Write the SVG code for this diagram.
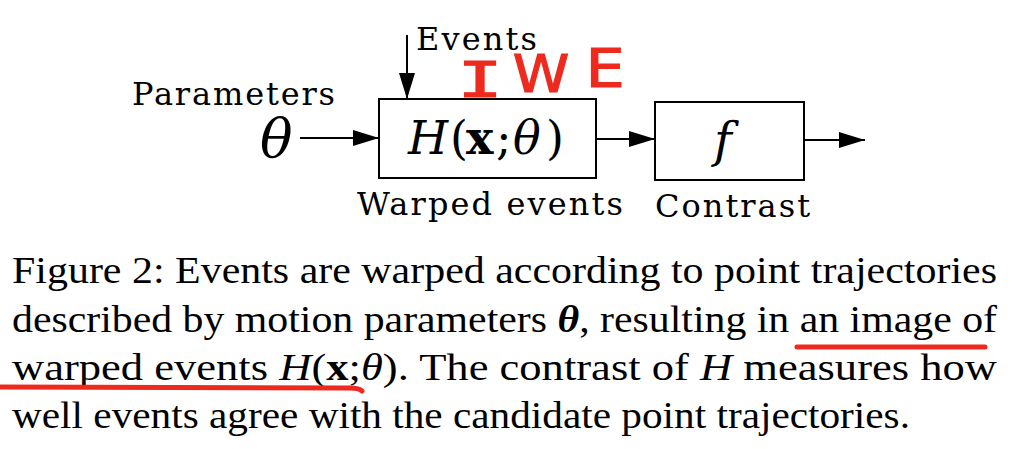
<svg xmlns="http://www.w3.org/2000/svg" width="1023" height="449" viewBox="0 0 1023 449">
  <style>
    .lbl { font-family: "DejaVu Serif", serif; font-size: 32px; fill: #000; }
    .math { font-family: "DejaVu Serif", serif; fill: #000; }
    .box { fill: #fff; stroke: #000; stroke-width: 2; }
    .conn { stroke: #000; stroke-width: 2; fill: none; marker-end: url(#arr); }
    .cap { font-family: "Liberation Serif", "DejaVu Serif", serif; font-size: 37px; fill: #000; }
    .red { fill: #ee2a1e; stroke: #ee2a1e; stroke-width: 1.2; }
    .uline { stroke: #ee2a1e; stroke-width: 5; fill: none; stroke-linecap: round; stroke-linejoin: round; }
  </style>
  <defs>
    <marker id="arr" markerUnits="userSpaceOnUse" markerWidth="26" markerHeight="16" refX="26" refY="8" orient="auto">
      <path d="M0,0 L26,8 L0,16 z" fill="#000"/>
    </marker>
  </defs>
  <rect width="1023" height="449" fill="#fff"/>

  <g id="connectors">
    <path class="conn" d="M300 138 L379 138"/>
    <path class="conn" d="M407 35 L407 99"/>
    <path class="conn" d="M596 139 L655 139"/>
    <path class="conn" d="M804 140 L865 140"/>
  </g>

  <g id="input-theta">
    <text class="lbl" x="132" y="105" textLength="203">Parameters</text>
    <text class="math" x="260" y="157" font-size="54" font-style="italic">θ</text>
  </g>

  <g id="events-input">
    <text class="lbl" x="416" y="50" textLength="121">Events</text>
  </g>

  <g id="warp-box">
    <rect class="box" x="379" y="99" width="217" height="79"/>
    <text class="math" y="154" font-size="46"><tspan x="408" font-style="italic">H</tspan><tspan x="450">(</tspan><tspan x="466" font-weight="bold">x</tspan><tspan x="496">;</tspan><tspan x="513" font-style="italic">θ</tspan><tspan x="546">)</tspan></text>
    <text class="lbl" x="357" y="215" textLength="266">Warped events</text>
  </g>

  <g id="contrast-box">
    <rect class="box" x="655" y="102" width="149" height="78"/>
    <text class="math" x="714" y="157" font-size="48" font-style="italic">f</text>
    <text class="lbl" x="655" y="217" textLength="155">Contrast</text>
  </g>

  <g id="iwe-annotation">
    <text class="red" x="0" y="0" font-family="DejaVu Sans Mono, monospace" font-size="50" text-anchor="middle" transform="translate(480 97) scale(1.5 1)">I</text>
    <text class="red" x="0" y="0" font-family="DejaVu Sans, sans-serif" font-size="52" text-anchor="middle" transform="translate(541 92) scale(1.1 1)">W</text>
    <text class="red" x="0" y="0" font-family="DejaVu Sans, sans-serif" font-size="54" text-anchor="middle" transform="translate(605 87) scale(1.15 1)">E</text>
  </g>

  <g id="caption">
    <text class="cap" x="12" y="283" textLength="985" lengthAdjust="spacingAndGlyphs">Figure 2: Events are warped according to point trajectories</text>
    <text class="cap" x="12" y="332" textLength="985" lengthAdjust="spacingAndGlyphs">described by motion parameters <tspan font-style="italic" font-weight="bold">θ</tspan>, resulting in an image of</text>
    <text class="cap" x="12" y="380" textLength="985" lengthAdjust="spacingAndGlyphs">warped events <tspan font-style="italic">H</tspan>(<tspan font-weight="bold">x</tspan>;<tspan font-style="italic">θ</tspan>).  The contrast of <tspan font-style="italic">H</tspan> measures how</text>
    <text class="cap" x="12" y="428" textLength="898" lengthAdjust="spacingAndGlyphs">well events agree with the candidate point trajectories.</text>
    <path class="uline" d="M797 347 L985 347"/>
    <path class="uline" d="M0 387 L350 388 Q359 388 362 391"/>
  </g>
</svg>
